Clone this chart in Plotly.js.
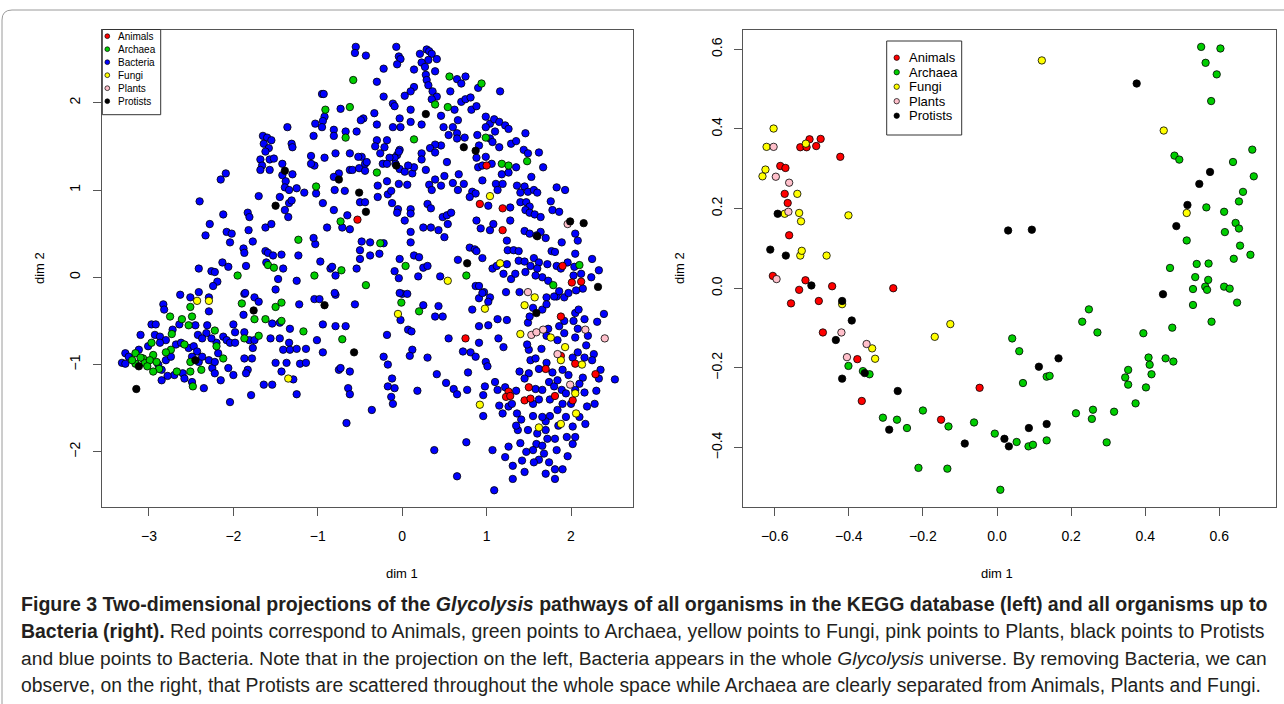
<!DOCTYPE html>
<html>
<head>
<meta charset="utf-8">
<script src="https://cdn.plot.ly/plotly-3.0.1.min.js"></script>
<style>
html,body{margin:0;padding:0;background:#fff;}
#chart{width:1284px;height:704px;}
</style>
</head>
<body>
<div id="chart"></div>
<script>
// ---------------- DATA ----------------
const categoriesLeft = ['Animals','Archaea','Bacteria','Fungi','Plants','Protists'];
const categoriesRight = ['Animals','Archaea','Fungi','Plants','Protists'];
const xTicksLeft = [-3,-2,-1,0,1,2];
const yTicksLeft = [-2,-1,0,1,2];
const xTicksRight = [-0.6,-0.4,-0.2,0.0,0.2,0.4,0.6];
const yTicksRight = [-0.4,-0.2,0.0,0.2,0.4,0.6];
const axisTitleX = 'dim 1';
const axisTitleY = 'dim 2';

// Left panel (all organisms) — [x, y] pairs per group
const leftAnimals = [[1.00,1.28],[0.92,0.84],[1.19,0.79],[1.19,0.54],[-0.53,0.66],[1.90,0.13],[2.01,-0.06],[2.12,-0.05],[0.75,-0.70],[1.26,-1.31],[1.23,-1.37],[1.28,-1.36],[1.50,-1.26],[1.45,-1.41],[1.52,-1.39],[1.70,-1.05],[1.88,-0.45],[1.88,-0.90],[1.81,-1.36],[2.05,-0.99],[2.29,-1.11],[2.02,-1.41]];
const leftArchaea = [[-0.58,2.26],[0.56,2.30],[0.94,2.22],[0.39,1.98],[0.54,1.95],[-0.91,1.92],[-0.62,1.95],[-0.67,1.60],[0.99,1.60],[0.14,1.58],[-0.30,1.20],[1.18,1.30],[1.26,1.28],[1.48,1.33],[-1.02,1.04],[-0.73,0.64],[-1.23,0.43],[-0.26,0.39],[-1.95,0.02],[-1.59,0.14],[-1.52,0.11],[-1.04,0.02],[-0.72,0.08],[-0.43,-0.09],[0.04,0.13],[0.76,0.02],[1.79,-0.09],[2.10,0.14],
[-2.75,-0.45],[-2.61,-0.48],[-2.49,-0.45],[-2.51,-0.34],[-2.53,-0.55],[-2.73,-0.65],[-2.97,-0.75],[-3.16,-0.87],[-3.07,-0.93],[-2.95,-0.89],[-3.16,-0.99],[-3.05,-0.98],[-2.99,-0.95],[-2.91,-0.97],[-2.74,-0.83],[-2.58,-0.77],[-2.51,-0.97],[-2.38,-1.06],[-2.51,-1.08],[-2.67,-1.08],[-2.48,-1.25],[-2.12,-0.93],[-2.22,-0.61],[-2.20,-0.79],[-1.90,-0.30],[-1.75,-0.48],[-1.62,-0.48],[-1.87,-0.70],[-1.70,-0.67],[-1.50,-0.34],[-1.43,-0.29],[-1.43,-0.50],[-1.17,-0.62],[-0.71,-0.71],[-0.01,-0.29],[0.20,-0.39],
[-3.10,-0.92],[-3.02,-1.02],[-2.88,-1.05],[-2.80,-0.86],[-3.20,-0.95],[-2.95,-1.08]];
const leftBacteria = [[-0.55,2.64],[-0.56,2.57],[-0.43,2.54],[-0.07,2.64],[-0.04,2.53],[-0.02,2.50],[-0.06,2.44],[0.21,2.56],[0.29,2.61],[0.32,2.59],[0.35,2.56],[0.41,2.50],[0.31,2.49],[0.23,2.46],[0.27,2.41],
[-0.22,2.39],[0.14,2.38],[0.39,2.36],[0.28,2.32],[0.29,2.26],[0.65,2.27],[0.75,2.30],[0.70,2.22],[-0.30,2.24],[0.90,2.17],[1.16,2.13],[0.31,2.20],[0.14,2.18],
[0.10,2.13],[0.36,2.13],[0.41,2.07],[0.35,2.04],[0.57,2.13],[0.70,2.01],[0.75,2.04],[0.81,2.06],[-0.11,1.99],[-0.09,1.96],[-0.22,2.07],[0.03,2.08],[-0.95,2.10],[-0.93,2.10],[0.62,1.92],[0.82,1.92],[0.88,1.96],[-0.73,1.93],
[-0.33,1.88],[-0.46,1.82],[-0.49,1.80],[-0.92,1.84],[-0.94,1.79],[-1.03,1.76],[-0.95,1.72],[-0.30,1.75],[-0.11,1.72],[-0.02,1.72],[-0.03,1.82],[0.10,1.92],[0.10,1.78],[0.23,1.75],[0.46,1.85],[0.49,1.72],[0.60,1.72],[0.66,1.80],[0.99,1.84],[1.04,1.76],[1.09,1.81],[1.15,1.78],[1.22,1.74],[0.99,1.72],[-1.36,1.72],
[-1.05,1.62],[-0.81,1.69],[-0.81,1.62],[-0.67,1.67],[-0.54,1.67],[1.10,1.67],[1.26,1.70],[1.46,1.65],[0.89,1.63],[0.65,1.65],[0.65,1.59],[0.74,1.60],[0.55,1.63],[0.46,1.51],[0.39,1.52],[0.33,1.48],[0.23,1.42],[0.39,1.43],[-0.18,1.57],[-0.30,1.57],[-0.32,1.50],[-0.03,1.46],[-0.06,1.40],[-0.09,1.37],[0.91,1.51],[1.04,1.59],[1.07,1.55],[1.15,1.49],[1.29,1.53],[1.35,1.56],[1.44,1.46],[1.49,1.42],[1.62,1.43],[0.99,1.38],[0.88,1.37],
[-1.65,1.62],[-1.60,1.60],[-1.55,1.57],[-1.64,1.53],[-1.58,1.48],[-1.62,1.44],[-1.31,1.53],[-1.30,1.49],[-0.62,1.42],[-0.79,1.42],[-0.48,1.38],[-0.52,1.38],[-0.92,1.37],[-1.08,1.39],[-0.26,1.42],[-0.21,1.49],[-0.15,1.37],[-0.04,1.44],[0.23,1.35],
[-1.68,1.35],[-1.57,1.35],[-1.52,1.36],[-1.66,1.28],[-1.68,1.23],[-1.57,1.23],[-1.42,1.30],[-1.42,1.17],[-1.30,1.18],[-1.04,1.28],[-1.08,1.30],[-0.75,1.19],[-0.62,1.23],[-0.59,1.23],[-0.51,1.25],[-0.44,1.30],[-0.44,1.22],[-0.42,1.32],[-0.23,1.30],[-0.18,1.30],[-0.08,1.30],[-0.03,1.24],[0.03,1.21],[0.12,1.19],[0.14,1.26],[0.28,1.23],[0.07,1.28],[1.06,1.30],[1.67,1.26],[0.90,1.26],[0.95,1.28],[1.35,1.26],[1.18,1.18],[1.26,1.20],[1.53,1.15],[0.53,1.32],[0.67,1.18],[0.50,1.16],[0.39,1.12],[0.95,1.11],
[-2.15,1.12],[-2.09,1.19],[-1.38,1.10],[-1.39,1.03],[-1.34,1.00],[-1.25,1.02],[-1.16,0.97],[-1.45,0.92],[-1.34,0.85],[-1.31,0.88],[-1.70,0.93],[-2.40,0.87],[-0.80,1.00],[-0.68,0.99],[-0.94,0.85],[-1.02,0.96],[-0.81,1.15],[-0.50,0.86],[-0.44,0.86],[-0.29,0.92],[-0.17,0.95],[-0.13,0.99],[-0.29,1.05],[-0.18,1.10],[-0.04,1.07],[0.06,1.06],[0.32,1.06],[0.35,1.00],[0.46,1.05],[0.60,1.08],[0.73,1.07],[0.66,1.00],[0.83,0.98],[0.87,0.96],[0.80,0.92],[1.11,1.07],[1.13,1.00],[1.19,1.07],[1.36,1.05],[1.45,1.04],[1.40,0.97],[1.49,0.98],[1.56,1.00],[1.60,0.97],[1.83,1.03],[1.93,1.00],[1.02,0.82],[1.28,0.80],[1.40,0.86],[1.47,0.86],[1.51,0.81],[1.76,0.87],[-0.12,0.85],[0.30,0.84],
[1.46,0.77],[1.51,0.74],[1.57,0.72],[1.64,0.69],[1.78,0.77],[1.86,0.75],[-0.05,0.78],[-0.06,0.74],[0.10,0.78],[0.10,0.73],[0.03,0.65],[0.34,0.79],[0.48,0.69],[0.53,0.71],[0.58,0.74],[0.54,0.61],[0.50,0.46],[0.25,0.57],[0.34,0.57],[0.43,0.54],[0.10,0.52],[0.88,0.65],[0.93,0.56],[1.04,0.54],[1.08,0.61],[1.28,0.65],[1.45,0.53],[1.51,0.50],[1.64,0.52],[1.70,0.45],[1.59,0.48],[1.89,0.40],[2.05,0.50],[2.08,0.42],[-0.65,0.71],[-0.62,0.55],[-0.71,0.57],[-0.89,0.57],[-0.81,0.77],[-2.12,0.72],[-1.83,0.74],[-1.81,0.69],[-2.28,0.61],[-2.08,0.52],[-2.02,0.50],[-1.82,0.54],[-1.62,0.57],[-1.55,0.61],[-1.39,0.77],[-1.35,0.69],
[-2.33,0.48],[-2.04,0.40],[-1.77,0.41],[-1.88,0.33],[-1.87,0.28],[-1.03,0.38],[-1.05,0.45],[-0.97,0.18],[-1.62,0.30],[-1.59,0.28],[-1.53,0.25],[-1.43,0.26],[-1.23,0.25],[-0.48,0.41],[-0.38,0.40],[-0.22,0.39],[-0.50,0.31],[-0.38,0.25],[-0.27,0.27],[-0.50,0.21],[0.10,0.40],[0.14,0.25],[0.20,0.23],[-0.03,0.21],[0.66,0.20],[0.80,0.34],[0.86,0.32],[0.88,0.30],[0.95,0.22],[1.24,0.42],[1.25,0.31],[1.32,0.31],[1.38,0.30],[1.38,0.19],[1.45,0.18],[1.56,0.22],[1.62,0.17],[1.72,0.15],[1.77,0.30],[1.81,0.29],[2.05,0.27],[2.25,0.21],
[-2.41,0.10],[-2.26,0.07],[-2.22,0.06],[-2.13,0.17],[-2.06,0.12],[-2.19,-0.05],[-2.24,-0.10],[-1.85,0.13],[-1.61,0.17],[-1.41,0.10],[-1.47,-0.02],[-1.50,-0.14],[-1.25,-0.04],[-0.85,0.10],[-0.83,0.12],[-0.79,0.02],[-0.54,0.10],[-0.09,0.07],[-0.04,-0.01],[0.19,0.01],[0.25,0.11],[0.30,0.13],[0.45,0.01],[0.87,-0.10],[0.91,-0.10],[0.97,-0.17],[1.07,0.10],[1.12,0.13],[1.24,0.15],[1.20,0.04],[1.29,-0.02],[1.34,0.04],[1.46,0.06],[1.52,0.13],[1.60,0.10],[1.66,0.00],[1.58,0.02],[1.73,-0.04],[1.83,0.13],[1.88,0.10],[1.96,0.17],[2.04,0.12],[2.12,0.04],[2.03,0.02],[2.14,-0.13],[2.06,-0.15],[2.33,0.08],[2.24,0.00],[1.23,-0.17],[1.39,-0.17],[1.71,-0.23],[1.83,-0.22],[1.04,-0.23],[0.91,-0.24],[0.00,-0.19],[0.06,-0.19],[-1.04,-0.25],[-0.98,-0.25],[-0.79,-0.20],[-2.63,-0.20],[-2.51,-0.23],[-2.29,-0.23],[-1.87,-0.19],[-1.75,-0.23],[-2.41,-0.17],
[-2.29,-0.39],[-2.83,-0.31],[-2.82,-0.37],[-2.64,-0.54],[-2.45,-0.55],[-2.72,-0.60],[-2.97,-0.54],[-2.92,-0.54],[-3.10,-0.66],[-2.93,-0.66],[-2.87,-0.68],[-2.80,-0.72],[-2.87,-0.75],[-3.01,-0.79],[-3.12,-0.83],[-3.28,-0.87],[-3.24,-0.91],[-3.32,-0.98],[-3.28,-0.99],[-2.89,-1.00],[-2.85,-1.06],[-2.80,-0.95],[-2.74,-0.91],[-2.68,-0.77],[-2.62,-0.75],[-2.53,-0.81],[-2.47,-0.79],[-2.43,-0.85],[-2.49,-0.91],[-2.41,-0.97],[-2.37,-0.91],[-2.29,-0.95],[-2.60,-1.10],[-2.70,-1.12],[-2.78,-1.13],[-2.85,-1.18],[-2.58,-1.16],[-2.49,-1.20],[-2.35,-1.27],[-2.25,-1.04],[-2.22,-1.10],[-2.15,-1.18],[-2.22,-0.97],[-2.18,-0.87],[-2.20,-0.75],[-2.26,-0.70],[-2.32,-0.64],[-2.31,-0.55],[-2.42,-0.66],[-2.37,-0.70],[-2.12,-0.68],[-2.08,-0.72],[-2.06,-1.04],[-2.00,-1.12],[-2.04,-1.43],[-2.00,-0.54],[-1.98,-0.63],[-2.04,-0.75],[-1.98,-0.75],[-1.88,-0.43],[-1.86,-0.18],[-1.70,-0.28],[-1.87,-0.63],[-1.81,-0.72],[-1.75,-0.72],[-1.77,-0.81],[-1.87,-0.93],[-1.78,-0.93],[-1.83,-1.06],[-1.85,-1.10],[-1.79,-1.35],[-1.64,-1.23],[-1.54,-1.23],[-1.56,-0.70],[-1.54,-0.53],[-1.45,-0.52],[-1.45,-0.70],[-1.41,-0.83],[-1.34,-0.75],[-1.33,-0.83],[-1.33,-0.59],[-1.50,-0.98],[-1.43,-1.08],[-1.29,-1.17],[-1.37,-0.98],[-1.25,-0.82],[-1.14,-0.82],[-1.21,-0.99],[-1.14,-0.98],[-1.22,-0.31],[-1.25,-1.34],[-0.80,-0.18],[-0.94,-0.54],[-0.79,-0.56],[-0.67,-0.56],[-1.01,-0.72],[-0.94,-0.86],[-0.56,-0.31],[-0.75,-1.06],[-0.73,-1.04],[-0.62,-1.08],[-0.64,-1.27],[-0.62,-1.34],[-0.66,-1.67],[-0.36,-1.52],[-0.22,-0.91],[-0.17,-1.00],[-0.12,-1.16],[-0.17,-1.25],[-0.09,-1.27],[-0.13,-1.37],[-0.11,-1.45],[-0.18,-0.66],[-0.03,-0.18],[-0.02,-0.49],[0.07,-0.60],[0.11,-0.62],[0.12,-0.83],[0.09,-0.90],[0.25,-0.32],[0.43,-0.33],[0.48,-0.45],[0.39,-0.45],[0.55,-0.70],[0.30,-0.92],[0.18,-1.30],[0.41,-1.11],[0.52,-1.21],[0.61,-1.28],[0.65,-1.34],[0.38,-1.98],[0.65,-2.28],[0.76,-1.89],[0.77,-1.29],[0.78,-1.09],[0.72,-0.85],[0.81,-0.86],[0.91,-0.56],[0.83,-0.37],[0.95,-0.18],[1.02,-0.28],[1.13,-0.48],[1.02,-0.55],[0.91,-0.75],[0.87,-0.91],[0.99,-0.97],[1.01,-1.02],[0.98,-1.25],[0.96,-1.35],[0.96,-1.59],[1.10,-1.20],[1.13,-1.29],[1.15,-1.47],[1.20,-0.80],[1.14,-0.70],[1.24,-0.49],[1.22,-1.26],[1.26,-1.48],[1.30,-1.45],[1.19,-1.56],[1.07,-1.98],[1.09,-2.44],[1.26,-1.94],[1.22,-2.06],[1.31,-2.16],[1.31,-2.31],[1.45,-2.23],[1.42,-2.10],[1.39,-1.08],[1.37,-1.75],[1.41,-1.63],[1.36,-1.56],[1.49,-0.52],[1.51,-0.45],[1.52,-0.95],[1.58,-0.93],[1.50,-0.83],[1.48,-0.77],[1.58,-1.28],[1.66,-1.29],[1.71,-0.98],[1.71,-0.67],[1.73,-0.59],[1.55,-0.35],[1.66,-0.37],[1.71,-0.31],[1.80,-0.22],[1.86,-0.16],[1.92,-0.23],[1.97,-0.18],[1.92,-0.50],[2.05,-0.41],[2.09,-0.37],[2.16,-0.48],[1.86,-0.56],[1.92,-0.64],[1.84,-0.72],[1.78,-1.09],[1.74,-1.20],[1.80,-1.25],[1.89,-1.29],[1.84,-1.18],[1.90,-1.06],[2.03,-0.50],[2.08,-0.59],[2.20,-0.67],[2.39,-0.42],[2.31,-0.51],[2.05,-0.69],[2.18,-0.78],[2.08,-0.86],[2.02,-0.92],[2.16,-0.92],[2.27,-0.88],[2.35,-1.06],[2.33,-1.16],[2.52,-1.17],[2.14,-1.15],[2.05,-1.29],[1.94,-1.33],[2.16,-1.32],[2.19,-1.48],[2.28,-1.45],[2.17,-1.68],[2.05,-1.83],[2.02,-1.71],[1.95,-1.83],[2.02,-1.91],[1.94,-1.60],[1.84,-1.52],[1.75,-1.59],[1.70,-1.65],[1.66,-1.60],[1.55,-1.59],[1.49,-1.75],[1.60,-1.79],[1.72,-1.85],[1.81,-1.85],[1.59,-1.91],[1.66,-1.93],[1.55,-1.98],[1.68,-2.02],[1.62,-2.09],[1.74,-2.12],[1.83,-1.98],[1.81,-2.20],[1.90,-2.20],[1.81,-2.31],[1.56,-2.12],
[1.50,-1.10],[1.62,-1.05],[1.45,-1.16],[1.90,-1.45],[2.10,-1.60],[1.85,-1.70],[1.55,-1.45],[1.35,-1.30],[1.40,-1.90],[1.70,-1.75],[2.00,-1.45],[2.10,-1.22],[1.97,-1.12],[1.62,-1.40],[1.75,-1.40],[1.47,-2.00],[1.96,-2.05],[1.70,-2.25],[1.35,-1.70],[1.65,-0.82],[2.25,-0.95],[2.30,-1.30]];
const leftFungi = [[1.04,0.93],[1.16,0.16],[0.54,-0.04],[1.57,-0.23],[-2.43,-0.27],[-2.29,-0.27],[-1.35,-1.16],[-0.05,-0.42],[0.98,-0.36],[0.92,-1.46],[1.40,-0.65],[1.45,-0.32],[1.76,-0.69],[1.93,-0.80],[1.88,-0.95],[2.13,-1.00],[2.05,-1.33],[2.06,-1.56],[1.88,-1.68],[1.62,-1.72]];
const leftPlants = [[1.96,0.61],[1.49,-0.17],[1.53,-0.66],[1.59,-0.63],[1.67,-0.60],[1.84,-0.88],[2.17,-0.60],[2.40,-0.70],[1.99,-1.23]];
const leftProtists = [[0.28,1.87],[0.73,1.49],[0.87,1.45],[-0.07,1.28],[-1.39,1.22],[-0.75,1.12],[-0.51,0.97],[-0.43,0.75],[-1.50,0.82],[1.99,0.64],[2.15,0.62],[1.60,0.47],[0.77,0.16],[2.32,-0.11],[-3.12,-1.02],[-2.45,-0.95],[-3.15,-1.28],[-1.76,-0.38],[-0.92,-0.32],[-0.57,-0.86],[1.59,-0.41]];

// Right panel (organisms up to Bacteria)
const rightAnimals = [[-0.585,0.307],[-0.571,0.302],[-0.573,0.237],[-0.565,0.214],[-0.561,0.133],[-0.605,0.031],[-0.517,0.020],[-0.534,-0.004],[-0.445,0.005],[-0.280,0.000],[-0.531,0.354],[-0.514,0.354],[-0.506,0.374],[-0.488,0.357],[-0.476,0.375],[-0.423,0.330],[-0.556,-0.038],[-0.481,-0.032],[-0.470,-0.111],[-0.377,-0.178],[-0.365,-0.283],[-0.151,-0.330],[-0.047,-0.250]];
const rightArchaea = [[0.551,0.606],[0.603,0.602],[0.563,0.566],[0.593,0.537],[0.578,0.470],[0.479,0.333],[0.492,0.323],[0.689,0.348],[0.637,0.317],[0.693,0.281],[0.664,0.242],[0.653,0.218],[0.565,0.203],[0.613,0.192],[0.644,0.164],[0.653,0.150],[0.615,0.141],[0.512,0.120],[0.656,0.107],[0.684,0.084],[0.639,0.074],[0.467,0.051],[0.539,0.061],[0.571,0.062],[0.535,0.028],[0.570,0.021],[0.529,-0.002],[0.562,0.004],[0.567,-0.004],[0.613,0.004],[0.628,-0.001],[0.529,-0.042],[0.579,-0.084],[0.648,-0.036],
[-0.401,-0.195],[-0.362,-0.208],[-0.344,-0.216],[-0.308,-0.325],[-0.270,-0.330],[-0.243,-0.351],[-0.200,-0.307],[-0.131,-0.347],[-0.212,-0.451],[-0.134,-0.453],[-0.062,-0.337],[-0.006,-0.365],[0.053,-0.386],[0.009,-0.506],[0.041,-0.126],[0.060,-0.158],[0.070,-0.238],[0.085,-0.397],[0.097,-0.393],[0.134,-0.222],[0.142,-0.220],[0.134,-0.382],[0.213,-0.314],[0.230,-0.084],[0.248,-0.053],[0.271,-0.111],[0.259,-0.305],[0.256,-0.328],[0.296,-0.387],[0.316,-0.310],[0.346,-0.224],[0.354,-0.205],[0.354,-0.242],[0.374,-0.289],[0.395,-0.113],[0.402,-0.249],[0.409,-0.174],[0.412,-0.192],[0.417,-0.216],[0.455,-0.176],[0.473,-0.099],[0.476,-0.184]];
const rightFungi = [[-0.633,0.281],[-0.625,0.298],[-0.622,0.355],[-0.603,0.401],[-0.539,0.237],[-0.573,0.187],[-0.534,0.189],[-0.529,0.168],[-0.531,0.082],[-0.527,0.094],[-0.460,0.082],[-0.401,0.183],[-0.516,0.363],[0.121,0.572],[0.450,0.396],[0.512,0.189],[-0.418,-0.040],[-0.337,-0.151],[-0.329,-0.177],[-0.168,-0.122],[-0.126,-0.090]];
const rightPlants = [[-0.603,0.355],[-0.597,0.280],[-0.561,0.265],[-0.563,0.192],[-0.595,0.023],[-0.420,-0.111],[-0.352,-0.140],[-0.405,-0.173]];
const rightProtists = [[-0.592,0.187],[-0.612,0.097],[-0.570,0.082],[-0.501,0.007],[0.030,0.145],[0.094,0.147],[0.377,0.514],[0.575,0.292],[0.546,0.262],[0.514,0.209],[0.484,0.156],[0.448,-0.015],[-0.418,-0.032],[-0.392,-0.081],[-0.435,-0.130],[-0.357,-0.213],[-0.418,-0.227],[-0.268,-0.258],[-0.291,-0.355],[-0.087,-0.390],[0.020,-0.378],[0.032,-0.397],[0.086,-0.351],[0.113,-0.197],[0.134,-0.341],[0.166,-0.176]];

const captionLines = [
  '<b>Figure 3 Two-dimensional projections of the <i>Glycolysis</i> pathways of all organisms in the KEGG database (left) and all organisms up to</b>',
  '<b>Bacteria (right).</b> Red points correspond to Animals, green points to Archaea, yellow points to Fungi, pink points to Plants, black points to Protists',
  'and blue points to Bacteria. Note that in the projection on the left, Bacteria appears in the whole <i>Glycolysis</i> universe. By removing Bacteria, we can',
  'observe, on the right, that Protists are scattered throughout the whole space while Archaea are clearly separated from Animals, Plants and Fungi.'
];

// ---------------- STYLE ----------------
const W = 1284, H = 704;
const colors = {Animals:'#FF0000', Archaea:'#00CD00', Bacteria:'#0000FF', Fungi:'#FFFF00', Plants:'#FFC0CB', Protists:'#000000'};
const leftData = {Animals:leftAnimals, Archaea:leftArchaea, Bacteria:leftBacteria, Fungi:leftFungi, Plants:leftPlants, Protists:leftProtists};
const rightData = {Animals:rightAnimals, Archaea:rightArchaea, Fungi:rightFungi, Plants:rightPlants, Protists:rightProtists};
const px = v => v / W;
const py = v => 1 - v / H;
const FONT = 'Liberation Sans, Arial, Helvetica, sans-serif';
const CAPFAMILY = 'Liberation Sans';
const CAPFONT = 'Liberation Sans, Arial, sans-serif';

const traces = [];
function addTraces(data, order, xa, ya) {
  order.forEach(cat => {
    const pts = data[cat];
    traces.push({
      type:'scatter', mode:'markers', name:cat, xaxis:xa, yaxis:ya, showlegend:false,
      x: pts.map(p => p[0]), y: pts.map(p => p[1]),
      marker:{size:7.4, color:colors[cat], line:{width:0.8, color:'#000'}},
      hoverinfo:'skip'
    });
  });
}
// Bacteria drawn first so the other groups remain visible
addTraces(leftData, ['Bacteria','Archaea','Animals','Fungi','Plants','Protists'], 'x', 'y');
addTraces(rightData, ['Archaea','Animals','Fungi','Plants','Protists'], 'x2', 'y2');

const yDom = [py(506.5), py(30)];
function axisX(dom, range, tickvals, fmt) {
  return {domain:dom, range:range, tickvals:tickvals, tickformat:fmt, ticks:'outside', ticklen:8,
    tickcolor:'#555', tickwidth:1, showline:true, mirror:true, linecolor:'#555', linewidth:1,
    showgrid:false, zeroline:false, ticklabelstandoff:9, tickfont:{family:FONT, size:14, color:'#000'}};
}
function axisY(dom, range, tickvals, fmt, anchor, standoff) {
  return {domain:dom, range:range, tickvals:tickvals, tickformat:fmt, ticks:'outside', ticklen:8,
    tickcolor:'#555', tickwidth:1, showline:true, mirror:true, linecolor:'#555', linewidth:1,
    showgrid:false, zeroline:false, tickangle:-90, ticklabelstandoff:standoff, anchor:anchor,
    tickfont:{family:FONT, size:14, color:'#000'}};
}

const shapes = [];
const annotations = [];

// outer figure frame with rounded corner
shapes.push({type:'path', xref:'paper', yref:'paper',
  path:`M ${px(2)} ${py(704)} L ${px(2)} ${py(20)} Q ${px(2)} ${py(10)} ${px(12)} ${py(10)} L ${px(1284)} ${py(10)}`,
  line:{color:'#9a9a9a', width:1}});

// manual R-style legends
function drawLegend(cats, box, firstY, step, markerX, textX, fontSize, r) {
  shapes.push({type:'rect', xref:'paper', yref:'paper', x0:px(box[0]), x1:px(box[1]), y0:py(box[3]), y1:py(box[2]),
    line:{color:'#333', width:1}, fillcolor:'#fff', layer:'above'});
  cats.forEach((c, i) => {
    const cy = firstY + i * step;
    shapes.push({type:'circle', xref:'paper', yref:'paper', x0:px(markerX - r), x1:px(markerX + r),
      y0:py(cy + r), y1:py(cy - r), fillcolor:colors[c], line:{color:'#000', width:0.7}, layer:'above'});
    annotations.push({xref:'paper', yref:'paper', x:px(textX), y:py(cy), text:c, showarrow:false,
      xanchor:'left', yanchor:'middle', font:{family:FONT, size:fontSize, color:'#000'}});
  });
}
drawLegend(categoriesLeft, [102.3, 160.7, 29.5, 114.7], 36.2, 13.0, 107.3, 115.5, 10, 2.4);
drawLegend(categoriesRight, [886.7, 961.7, 41, 135], 57.7, 14.5, 896.7, 906.5, 13, 2.7);

// axis titles
[[402, axisTitleX], [997, axisTitleX]].forEach(([x, t]) => annotations.push({xref:'paper', yref:'paper', x:px(x), y:py(573),
  text:t, showarrow:false, xanchor:'center', yanchor:'middle', font:{family:FONT, size:13, color:'#000'}}));
[[40, axisTitleY], [680, axisTitleY]].forEach(([x, t]) => annotations.push({xref:'paper', yref:'paper', x:px(x), y:py(268),
  text:t, showarrow:false, textangle:-90, xanchor:'center', yanchor:'middle', font:{family:FONT, size:13, color:'#000'}}));

// caption: size each line so that it fills the justified text block (x 19 → 1266)
const cv = document.createElement('canvas').getContext('2d');
function measure(html, size) {
  let bold = false, ital = false, w = 0;
  html.split(/(<\/?[bi]>)/).forEach(tok => {
    if (tok === '<b>') bold = true; else if (tok === '</b>') bold = false;
    else if (tok === '<i>') ital = true; else if (tok === '</i>') ital = false;
    else if (tok) { cv.font = `${ital ? 'italic ' : ''}${bold ? 'bold ' : ''}${size}px "${CAPFAMILY}"`; w += cv.measureText(tok).width; }
  });
  return w;
}
const capY = [604, 631, 658, 685];
const capTarget = [1247, 1247, 1247, 1243];
captionLines.forEach((t, i) => {
  const size = Math.min(22, 18 * capTarget[i] / measure(t, 18));
  annotations.push({xref:'paper', yref:'paper', x:px(19), y:py(capY[i]), text:t,
    showarrow:false, xanchor:'left', yanchor:'middle', align:'left', font:{family:CAPFONT, size:size, color:'#231f20'}});
});

const layout = {
  width:W, height:H, margin:{l:0, r:0, t:0, b:0}, paper_bgcolor:'#fff', plot_bgcolor:'#fff',
  showlegend:false, hovermode:false,
  xaxis: Object.assign(axisX([px(102.3), px(633.3)], [-3.553, 2.738], xTicksLeft, ''), {anchor:'y'}),
  yaxis: axisY(yDom, [-2.626, 2.833], yTicksLeft, '', 'x', 8),
  xaxis2: Object.assign(axisX([px(742.7), px(1275.7)], [-0.6864, 0.7522], xTicksRight, '.1f'), {anchor:'y2'}),
  yaxis2: axisY(yDom, [-0.548, 0.6484], yTicksRight, '.1f', 'x2', 6),
  shapes: shapes, annotations: annotations
};

Plotly.newPlot('chart', traces, layout, {staticPlot:true, displayModeBar:false});
</script>
</body>
</html>
